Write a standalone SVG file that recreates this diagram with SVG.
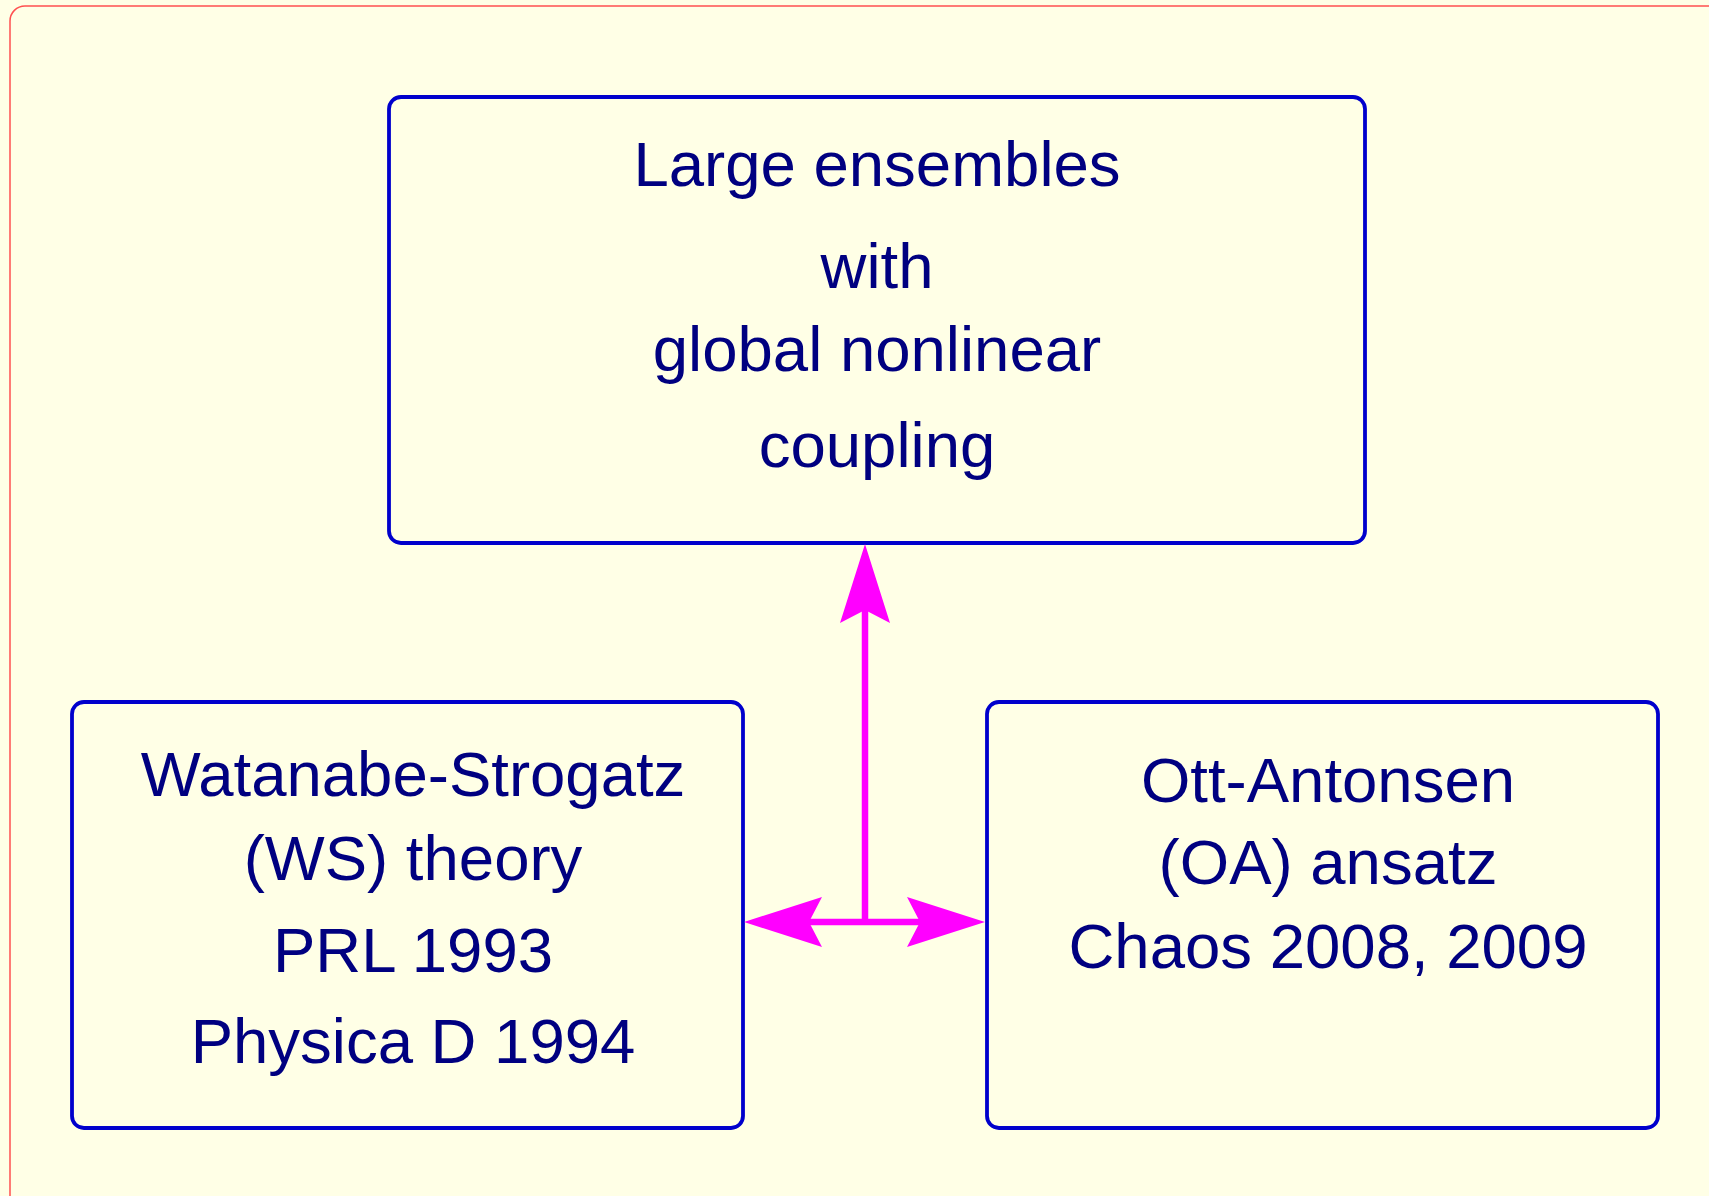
<svg xmlns="http://www.w3.org/2000/svg" width="1709" height="1196" viewBox="0 0 1709 1196">
<style>
.bg{fill:#ffffe6}
.frame{fill:none;stroke:#ff5050;stroke-width:1.5}
.box{fill:#ffffe6;stroke:#0000cc;stroke-width:3.8}
.t{font-family:"Liberation Sans",Arial,sans-serif;font-size:63.5px;fill:#000080;text-anchor:middle}
.shaft{stroke:#ff00ff;stroke-width:6.5;fill:none}
.head{fill:#ff00ff}
</style>
<rect class="bg" x="0" y="0" width="1709" height="1196"/>
<rect class="frame" x="10" y="6" width="1730" height="1220" rx="15"/>
<g id="top">
<rect class="box" x="389" y="97" width="976" height="446" rx="12"/>
<text class="t" x="877" y="186">Large ensembles</text>
<text class="t" x="877" y="288">with</text>
<text class="t" x="877" y="371">global nonlinear</text>
<text class="t" x="877" y="467">coupling</text>
</g>
<g id="ws">
<rect class="box" x="72" y="702" width="671" height="426" rx="12"/>
<text class="t" x="413" y="796">Watanabe-Strogatz</text>
<text class="t" x="413" y="880">(WS) theory</text>
<text class="t" x="413" y="972">PRL 1993</text>
<text class="t" x="413" y="1063">Physica D 1994</text>
</g>
<g id="oa">
<rect class="box" x="987" y="702" width="671" height="426" rx="12"/>
<text class="t" x="1328" y="802">Ott-Antonsen</text>
<text class="t" x="1328" y="884">(OA) ansatz</text>
<text class="t" x="1328" y="968">Chaos 2008, 2009</text>
</g>
<g id="connectors">
<line class="shaft" x1="865" y1="608" x2="865" y2="922"/>
<line class="shaft" x1="808" y1="922" x2="921" y2="922"/>
<polygon class="head" points="865,544 890,623 865,610 840,623"/>
<polygon class="head" points="744,922 822,897 809,922 822,947"/>
<polygon class="head" points="985,922 907,897 920,922 907,947"/>
</g>
</svg>
